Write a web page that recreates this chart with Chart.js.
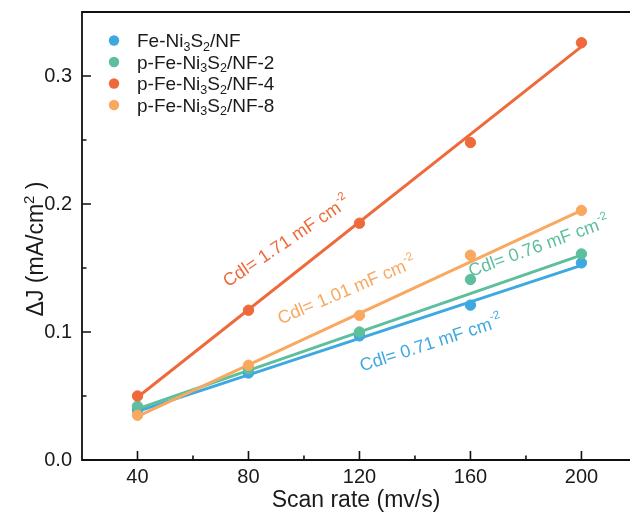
<!DOCTYPE html>
<html><head><meta charset="utf-8">
<script src="https://cdn.jsdelivr.net/npm/chart.js@4.4.1/dist/chart.umd.min.js"></script>
<style>html,body{margin:0;padding:0;background:#fff;overflow:hidden}#wrap{width:630px;height:515px}</style>
</head><body><div id="wrap"><canvas id="c" width="630" height="515"></canvas></div>
<script>
// ---- data ----
const scanRates = [40, 80, 120, 160, 200];
const feNi3S2   = [0.039, 0.068, 0.097, 0.121, 0.154];
const pFeNi3S2_2 = [0.042, 0.071, 0.100, 0.141, 0.161];
const pFeNi3S2_4 = [0.050, 0.117, 0.185, 0.248, 0.326];
const pFeNi3S2_8 = [0.035, 0.074, 0.113, 0.160, 0.195];
// linear-fit line end points
const fitX = [40, 200];
const fitFeNi3S2 = [0.038, 0.152];
const fitP2 = [0.040, 0.160];
const fitP4 = [0.049, 0.323];
const fitP8 = [0.034, 0.195];
const cdlValues = ['0.71', '0.76', '1.71', '1.01'];
const xMajorTicks = [40, 80, 120, 160, 200];
const xMinorTicks = [60, 100, 140, 180];
const yMajorTicks = [0, 0.1, 0.2, 0.3];
const yMinorTicks = [0.05, 0.15, 0.25];

const FONT = '"Liberation Sans", Arial, Helvetica, sans-serif';
const colors = ['#3ea8e0', '#5dbf9b', '#ef6a3a', '#f9a860'];
const seriesVals = [feNi3S2, pFeNi3S2_2, pFeNi3S2_4, pFeNi3S2_8];
const fitVals = [fitFeNi3S2, fitP2, fitP4, fitP8];
// legend label parts: [text, isSubscript]
const legendParts = [
  [['Fe-Ni',0],['3',1],['S',0],['2',1],['/NF',0]],
  [['p-Fe-Ni',0],['3',1],['S',0],['2',1],['/NF-2',0]],
  [['p-Fe-Ni',0],['3',1],['S',0],['2',1],['/NF-4',0]],
  [['p-Fe-Ni',0],['3',1],['S',0],['2',1],['/NF-8',0]]
];
// annotation placement (data coords) and rotation
const annot = [
  {s:0, x:145.6, y:0.0914, a:18},
  {s:1, x:184.5, y:0.1672, a:20},
  {s:2, x:93.5, y:0.171, a:34},
  {s:3, x:115.3, y:0.1328, a:23}
];

const datasets = [];
for (let i = 0; i < 4; i++) {
  datasets.push({
    type:'line', label:'fit'+i,
    data: fitX.map((x,k)=>({x, y: fitVals[i][k]})),
    borderColor: colors[i], borderWidth: 3, pointRadius: 0, fill:false, order: 10-i
  });
}
for (let i = 0; i < 4; i++) {
  datasets.push({
    type:'scatter', label:'s'+i,
    data: scanRates.map((x,k)=>({x, y: seriesVals[i][k]})),
    backgroundColor: colors[i], borderColor: colors[i], pointRadius: 5.2, pointHoverRadius:5.2, order: 5-i
  });
}

const framePlugin = {
  id:'frame',
  afterDraw(chart){
    const {ctx, chartArea:ca, scales:{x, y}} = chart;
    ctx.save();
    ctx.strokeStyle = '#111'; ctx.lineWidth = 1.8; ctx.lineCap='square';
    ctx.beginPath();
    ctx.moveTo(ca.left, ca.top); ctx.lineTo(ca.right+2, ca.top);
    ctx.moveTo(ca.left, ca.top); ctx.lineTo(ca.left, ca.bottom); ctx.lineTo(ca.right+2, ca.bottom);
    ctx.stroke();
    ctx.lineWidth = 1.6; ctx.lineCap='butt';
    ctx.beginPath();
    xMajorTicks.forEach(v=>{const p=x.getPixelForValue(v); ctx.moveTo(p, ca.bottom); ctx.lineTo(p, ca.bottom-9);});
    xMinorTicks.forEach(v=>{const p=x.getPixelForValue(v); ctx.moveTo(p, ca.bottom); ctx.lineTo(p, ca.bottom-4.5);});
    yMajorTicks.forEach(v=>{const p=y.getPixelForValue(v); ctx.moveTo(ca.left, p); ctx.lineTo(ca.left+9, p);});
    yMinorTicks.forEach(v=>{const p=y.getPixelForValue(v); ctx.moveTo(ca.left, p); ctx.lineTo(ca.left+4.5, p);});
    ctx.stroke();
    // y axis title with superscript
    ctx.save();
    ctx.translate(37, 249); ctx.rotate(-Math.PI/2);
    ctx.fillStyle = '#1a1a1a'; ctx.textBaseline = 'middle'; ctx.textAlign = 'left';
    const t1 = 'ΔJ (mA/cm', t2 = '2', t3 = ' )';
    ctx.font = '23px ' + FONT; const w1 = ctx.measureText(t1).width, w3 = ctx.measureText(t3).width;
    ctx.font = '15px ' + FONT; const w2 = ctx.measureText(t2).width;
    const tot = w1 + w2 + w3;
    let xx = -tot/2;
    ctx.font = '23px ' + FONT; ctx.fillText(t1, xx, 0); xx += w1;
    ctx.font = '15px ' + FONT; ctx.fillText(t2, xx, -7); xx += w2;
    ctx.font = '23px ' + FONT; ctx.fillText(t3, xx, 0);
    ctx.restore();
    ctx.restore();
  }
};

const legendPlugin = {
  id:'customLegend',
  afterDraw(chart){
    const ctx = chart.ctx;
    ctx.save();
    const rows = [40.5, 62, 83.5, 105];
    legendParts.forEach((parts, i)=>{
      const yy = rows[i];
      ctx.fillStyle = colors[i];
      ctx.beginPath(); ctx.arc(114, yy, 5.2, 0, Math.PI*2); ctx.fill();
      let xx = 137;
      ctx.fillStyle = '#1a1a1a';
      ctx.textBaseline = 'alphabetic'; ctx.textAlign = 'left';
      parts.forEach(([t, sub])=>{
        ctx.font = (sub ? '12.5px ' : '19px ') + FONT;
        ctx.fillText(t, xx, yy + 6.8 + (sub ? 3.5 : 0));
        xx += ctx.measureText(t).width;
      });
    });
    ctx.restore();
  }
};

const annotPlugin = {
  id:'cdl',
  afterDraw(chart){
    const {ctx, scales:{x, y}} = chart;
    ctx.save();
    annot.forEach(a=>{
      const px = x.getPixelForValue(a.x), py = y.getPixelForValue(a.y);
      const main = 'Cdl= ' + cdlValues[a.s] + ' mF cm';
      const sup = '-2';
      ctx.font = '18px ' + FONT; const w1 = ctx.measureText(main).width;
      ctx.font = '11.5px ' + FONT; const w2 = ctx.measureText(sup).width;
      const tot = w1 + w2;
      ctx.translate(px, py); ctx.rotate(-a.a*Math.PI/180);
      ctx.fillStyle = colors[a.s]; ctx.textBaseline='alphabetic'; ctx.textAlign='left';
      ctx.font = '18px ' + FONT; ctx.fillText(main, -tot/2, 6);
      ctx.font = '11.5px ' + FONT; ctx.fillText(sup, -tot/2 + w1 + 0.5, -2.5);
      ctx.setTransform(1,0,0,1,0,0);
    });
    ctx.restore();
  }
};

const zeroPad = s => { s.paddingTop = 0; s.paddingBottom = 0; s.paddingLeft = 0; s.paddingRight = 0; };

new Chart(document.getElementById('c'), {
  data: { datasets },
  options: {
    responsive:false, animation:false, devicePixelRatio:1,
    layout:{autoPadding:false, padding:{top:12, left:0, right:0, bottom:0}},
    plugins:{legend:{display:false}, tooltip:{enabled:false}},
    scales:{
      x:{ type:'linear', min:20, max:217.5,
        grid:{display:false, drawTicks:false}, border:{display:false},
        afterBuildTicks: s=>{ s.ticks = xMajorTicks.map(v=>({value:v})); },
        afterFit: s=>{ s.height = 55; zeroPad(s); },
        ticks:{ padding:5, color:'#1a1a1a', font:{family:FONT, size:20}, maxRotation:0, autoSkip:false },
        title:{ display:true, text:'Scan rate (mv/s)', color:'#1a1a1a', font:{family:FONT, size:23}, padding:{top:0,bottom:1} }
      },
      y:{ type:'linear', min:0, max:0.35,
        grid:{display:false, drawTicks:false}, border:{display:false},
        afterBuildTicks: s=>{ s.ticks = yMajorTicks.map(v=>({value:v})); },
        afterFit: s=>{ s.width = 82; zeroPad(s); },
        ticks:{ padding:10, color:'#1a1a1a', font:{family:FONT, size:20}, autoSkip:false, callback: v=>Number(v).toFixed(1) },
        title:{ display:false }
      }
    }
  },
  plugins:[framePlugin, legendPlugin, annotPlugin]
});
</script>
</body></html>
